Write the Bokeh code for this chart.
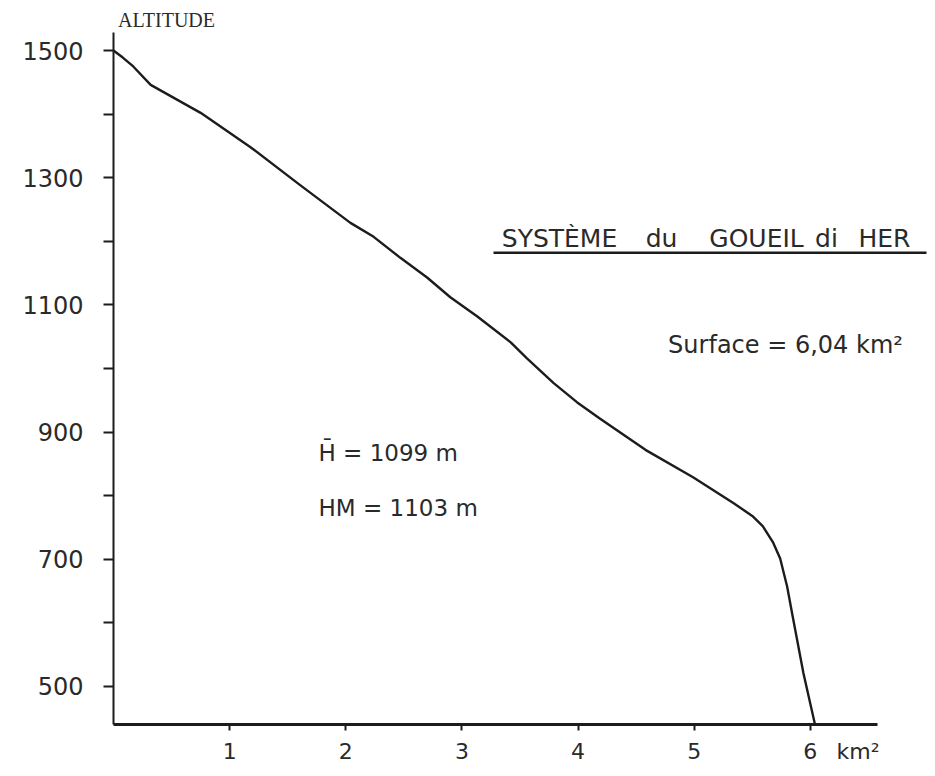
from bokeh.plotting import figure
from bokeh.models import Label, FixedTicker, Range1d, BoxAnnotation
from bokeh.embed import file_html
from bokeh.resources import INLINE

# ---- data ----
area_km2 = [0.0, 0.08, 0.17, 0.32, 0.75, 1.18, 1.61, 2.04, 2.24, 2.47, 2.70,
            2.90, 3.13, 3.42, 3.56, 3.79, 3.99, 4.19, 4.58, 4.99, 5.34, 5.50,
            5.59, 5.68, 5.74, 5.80, 5.85, 5.94, 6.04]
altitude_m = [1500, 1489, 1475, 1446, 1402, 1348, 1288, 1229, 1207, 1174, 1143,
              1112, 1082, 1041, 1016, 977, 947, 921, 872, 829, 788, 768,
              752, 726, 701, 657, 608, 521, 440]

y_tick_values = [500, 700, 900, 1100, 1300, 1500]
y_minor_values = [600, 800, 1000, 1200, 1400]
x_tick_values = [1, 2, 3, 4, 5, 6]

title_words = ["SYSTÈME", "du", "GOUEIL", "di", "HER"]
surface_text = "Surface = 6,04 km²"
hmean_text = "H\u0304 = 1099 m"
hm_text = "HM = 1103 m"
y_axis_title = "ALTITUDE"
x_unit = "km²"
x_unit_pos = 6.41

# ---- geometry ----
W, H = 927, 768
X_MIN, X_MAX = 0.0, 7.0
Y_MIN, Y_MAX = 440.0, 1563.0
LEFT, RIGHT, TOP, BOTTOM = 113, 1, 10, 44
frame_w = W - LEFT - RIGHT
frame_h = H - TOP - BOTTOM


def dx(px):
    """page pixel x -> data x"""
    return X_MIN + (px - LEFT) * (X_MAX - X_MIN) / frame_w


def dy(py):
    """page pixel y -> data y"""
    return Y_MIN + (H - BOTTOM - py) * (Y_MAX - Y_MIN) / frame_h


p = figure(width=W, height=H, x_range=Range1d(X_MIN, X_MAX),
           y_range=Range1d(Y_MIN, Y_MAX), output_backend="svg",
           toolbar_location=None, min_border_left=LEFT,
           min_border_right=RIGHT, min_border_top=TOP,
           min_border_bottom=BOTTOM, outline_line_color=None,
           background_fill_color="white", border_fill_color="white")
p.xgrid.visible = False
p.ygrid.visible = False

ink = "#1c1c1c"
txt = "#2a2a2a"

p.line(area_km2, altitude_m, line_color=ink, line_width=2.4,
       line_join="round")

# y axis
ya = p.yaxis[0]
ya.ticker = FixedTicker(ticks=y_tick_values, minor_ticks=y_minor_values)
ya.bounds = (440, 1528)
ya.axis_line_color = ink
ya.axis_line_width = 2
ya.major_tick_line_color = ink
ya.major_tick_line_width = 2
ya.major_tick_out = 10
ya.major_tick_in = 0
ya.minor_tick_line_color = ink
ya.minor_tick_line_width = 2
ya.minor_tick_out = 10
ya.minor_tick_in = 0
ya.major_label_standoff = 20
ya.major_label_text_font = "DejaVu Sans"
ya.major_label_text_font_size = "24px"
ya.major_label_text_color = txt

# x axis: labels on (invisible) major ticks, visible marks on minor ticks,
# plus the unit written as an extra label
xa = p.xaxis[0]
xa.ticker = FixedTicker(ticks=x_tick_values + [x_unit_pos],
                        minor_ticks=x_tick_values)
xa.major_label_overrides = {x_unit_pos: x_unit}
xa.bounds = (0, 6.58)
xa.axis_line_color = ink
xa.axis_line_width = 3
xa.major_tick_line_color = None
xa.major_tick_out = 6
xa.major_tick_in = 0
xa.minor_tick_line_color = ink
xa.minor_tick_line_width = 2
xa.minor_tick_out = 6
xa.minor_tick_in = 0
xa.major_label_standoff = 8
xa.major_label_text_font = "DejaVu Sans"
xa.major_label_text_font_size = "22px"
xa.major_label_text_color = txt

# y axis title
p.add_layout(Label(x=dx(166), y=dy(19), text=y_axis_title,
                   text_font="Liberation Serif", text_font_size="20px",
                   text_color=txt, text_align="center",
                   text_baseline="middle"))

# title words (spaced like the stencil lettering)
word_centers = [559, 661, 756, 826, 884]
for w, cx in zip(title_words, word_centers):
    p.add_layout(Label(x=dx(cx), y=dy(238), text=w,
                       text_font="DejaVu Sans", text_font_size="25px",
                       text_color=txt, text_align="center",
                       text_baseline="middle"))
p.add_layout(BoxAnnotation(left=dx(493), right=dx(927), top=dy(251),
                           bottom=dy(253.5), fill_color=ink, fill_alpha=1,
                           line_color=None))

p.add_layout(Label(x=dx(785), y=dy(344), text=surface_text,
                   text_font="DejaVu Sans", text_font_size="24px",
                   text_color=txt, text_align="center",
                   text_baseline="middle"))
p.add_layout(Label(x=dx(318), y=dy(452), text=hmean_text,
                   text_font="DejaVu Sans", text_font_size="23px",
                   text_color=txt, text_align="left",
                   text_baseline="middle"))
p.add_layout(Label(x=dx(318), y=dy(507), text=hm_text,
                   text_font="DejaVu Sans", text_font_size="23px",
                   text_color=txt, text_align="left",
                   text_baseline="middle"))

open("out.html", "w").write(file_html(p, INLINE))
